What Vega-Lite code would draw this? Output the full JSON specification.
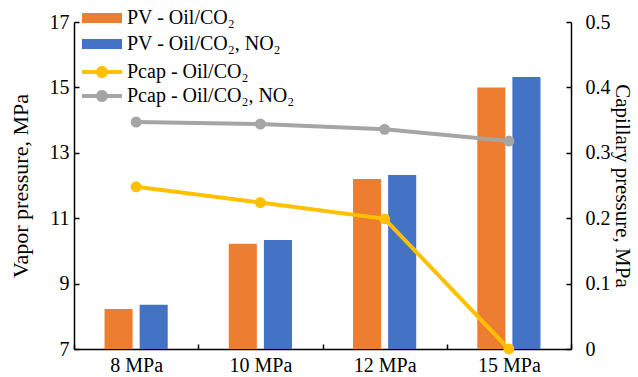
{
  "$schema": "https://vega.github.io/schema/vega-lite/v6.json",
  "width": 497,
  "height": 327,
  "autosize": {"type": "none"},
  "padding": {"left": 74, "top": 22, "right": 67, "bottom": 28},
  "background": "white",
  "config": {
    "view": {"stroke": null},
    "font": "Liberation Serif, Times New Roman, serif",
    "axis": {"grid": false, "domainColor": "black", "tickColor": "black", "domainWidth": 1.5, "tickWidth": 1.5},
    "legend": {"padding": 0}
  },
  "datasets": {
    "bars": [
      {"cat": "8 MPa", "series": "PV - Oil/CO₂", "value": 8.22},
      {"cat": "8 MPa", "series": "PV - Oil/CO₂, NO₂", "value": 8.35},
      {"cat": "10 MPa", "series": "PV - Oil/CO₂", "value": 10.22},
      {"cat": "10 MPa", "series": "PV - Oil/CO₂, NO₂", "value": 10.33},
      {"cat": "12 MPa", "series": "PV - Oil/CO₂", "value": 12.2},
      {"cat": "12 MPa", "series": "PV - Oil/CO₂, NO₂", "value": 12.32},
      {"cat": "15 MPa", "series": "PV - Oil/CO₂", "value": 15.0},
      {"cat": "15 MPa", "series": "PV - Oil/CO₂, NO₂", "value": 15.32}
    ],
    "lines": [
      {"cat": "8 MPa", "series": "Pcap - Oil/CO₂", "value": 0.248},
      {"cat": "10 MPa", "series": "Pcap - Oil/CO₂", "value": 0.224},
      {"cat": "12 MPa", "series": "Pcap - Oil/CO₂", "value": 0.199},
      {"cat": "15 MPa", "series": "Pcap - Oil/CO₂", "value": 0.0},
      {"cat": "8 MPa", "series": "Pcap - Oil/CO₂, NO₂", "value": 0.347},
      {"cat": "10 MPa", "series": "Pcap - Oil/CO₂, NO₂", "value": 0.344},
      {"cat": "12 MPa", "series": "Pcap - Oil/CO₂, NO₂", "value": 0.336},
      {"cat": "15 MPa", "series": "Pcap - Oil/CO₂, NO₂", "value": 0.318}
    ]
  },
  "layer": [
    {
      "data": {"name": "bars"},
      "mark": {"type": "bar"},
      "encoding": {
        "x": {"field": "cat", "type": "nominal", "sort": ["8 MPa", "10 MPa", "12 MPa", "15 MPa"], "scale": {"paddingInner": 0, "paddingOuter": 0},
          "axis": {"title": null, "labelAngle": 0, "tickSize": -5, "labelPadding": 11, "tickBand": "extent", "labelFont": "Liberation Serif, Times New Roman, serif", "labelFontSize": 20, "labelColor": "black"}},
        "xOffset": {"field": "series", "type": "nominal", "scale": {"paddingInner": 0.2, "paddingOuter": 0.87}},
        "y": {"field": "value", "type": "quantitative", "scale": {"domain": [7, 17], "zero": false, "nice": false},
          "axis": {"title": "Vapor pressure, MPa", "values": [7, 9, 11, 13, 15, 17], "tickSize": -5, "labelPadding": 10, "titlePadding": 17,
            "labelFont": "Liberation Serif, Times New Roman, serif", "labelFontSize": 20, "labelColor": "black", "titleFont": "Liberation Serif, Times New Roman, serif", "titleFontSize": 22, "titleFontWeight": "normal", "titleColor": "black"}},
        "y2": {"datum": 7},
        "color": {"field": "series", "type": "nominal",
          "scale": {"domain": ["PV - Oil/CO₂", "PV - Oil/CO₂, NO₂"], "range": ["#ED7D31", "#4472C4"]},
          "legend": {"title": null, "orient": "none", "legendX": 18, "legendY": -14, "symbolType": "M-2,-0.5H2V0.5H-2Z", "symbolSize": 400, "symbolStrokeWidth": 0, "rowPadding": 6, "labelOffset": 15, "labelLimit": 400,
            "labelFont": "Liberation Serif, Times New Roman, serif", "labelFontSize": 20, "labelColor": "black"}}
      }
    },
    {
      "data": {"name": "lines"},
      "layer": [
        {
          "mark": {"type": "line", "strokeWidth": 4},
          "encoding": {
            "x": {"field": "cat", "type": "nominal", "sort": ["8 MPa", "10 MPa", "12 MPa", "15 MPa"]},
            "y": {"field": "value", "type": "quantitative", "scale": {"domain": [0, 0.5], "nice": false},
              "axis": {"title": "Capillary pressure, MPa", "orient": "right", "values": [0, 0.1, 0.2, 0.3, 0.4, 0.5], "tickSize": -5, "labelPadding": 19, "titlePadding": 1, "format": "~g",
                "labelFont": "Liberation Serif, Times New Roman, serif", "labelFontSize": 20, "labelColor": "black", "titleFont": "Liberation Serif, Times New Roman, serif", "titleFontSize": 21, "titleFontWeight": "normal", "titleColor": "black"}},
            "stroke": {"field": "series", "type": "nominal",
              "scale": {"domain": ["Pcap - Oil/CO₂", "Pcap - Oil/CO₂, NO₂"], "range": ["#FFC000", "#A5A5A5"]}, "legend": null}
          }
        },
        {
          "mark": {"type": "point", "filled": true, "size": 120, "opacity": 1},
          "encoding": {
            "x": {"field": "cat", "type": "nominal", "sort": ["8 MPa", "10 MPa", "12 MPa", "15 MPa"]},
            "y": {"field": "value", "type": "quantitative"},
            "color": {"field": "series", "type": "nominal",
              "scale": {"domain": ["Pcap - Oil/CO₂", "Pcap - Oil/CO₂, NO₂"], "range": ["#FFC000", "#A5A5A5"]},
              "legend": {"title": null, "orient": "none", "legendX": 18, "legendY": 40, "symbolType": "M-2,-0.2H2V0.2H-2Z M-0.6,0A0.6,0.6 0 1,1 0.6,0A0.6,0.6 0 1,1 -0.6,0Z", "symbolSize": 400, "symbolStrokeWidth": 0, "symbolOpacity": 1, "rowPadding": 4, "labelOffset": 15, "labelLimit": 400,
                "labelFont": "Liberation Serif, Times New Roman, serif", "labelFontSize": 20, "labelColor": "black"}}
          }
        }
      ]
    }
  ],
  "resolve": {"scale": {"y": "independent", "color": "independent"}}
}
